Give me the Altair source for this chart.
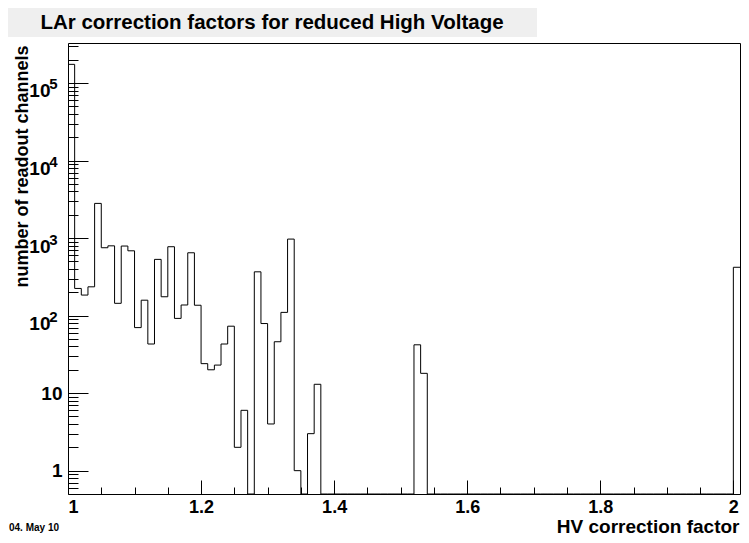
import altair as alt
import pandas as pd

# ---- data: histogram with 0.01 wide bins from 1.00 to 2.01 (non-empty bins only) ----
bin_low = [1.00, 1.01, 1.02, 1.03, 1.04, 1.05, 1.06, 1.07, 1.08, 1.09,
           1.10, 1.11, 1.12, 1.13, 1.14, 1.15, 1.16, 1.17, 1.18, 1.19,
           1.20, 1.21, 1.22, 1.23, 1.24, 1.25, 1.26, 1.28, 1.29, 1.30,
           1.31, 1.32, 1.33, 1.34, 1.36, 1.37, 1.52, 1.53, 2.00]
counts = [174000, 224, 184, 235, 2800, 750, 794, 144, 789, 685,
          70, 158, 43, 531, 175, 773, 92, 137, 646, 136,
          24, 20, 23, 43, 73, 2, 6, 367, 79, 4,
          46, 110, 970, 1, 3, 13, 42, 18, 420]

x_min, x_max, bin_w = 1.00, 2.01, 0.01
n_bins = 101

title_text = "LAr correction factors for reduced High Voltage"
x_title = "HV correction factor"
y_title = "number of readout channels"
date_text = "04. May 10"

x_major = [1.0, 1.2, 1.4, 1.6, 1.8, 2.0]
x_minor = [round(1.0 + 0.05 * i, 2) for i in range(1, 21) if i % 4 != 0]
y_major = [1, 10, 100, 1000, 10000, 100000]
y_minor = [round(k * 10.0 ** e, 3) for e in range(-1, 6) for k in range(2, 10)
           if 0.5 < k * 10.0 ** e < 3.28e5]

# ---- table of bin edges for a step outline ----
lookup = {round(b, 2): c for b, c in zip(bin_low, counts)}
edges = [round(x_min + bin_w * i, 2) for i in range(n_bins + 1)]
vals = [lookup.get(round(x_min + bin_w * min(i, n_bins - 1), 2), 0) for i in range(n_bins + 1)]
df = pd.DataFrame({"x": edges, "count": vals})

FONT = "Liberation Sans"
W, H = 672, 451
xscale = alt.Scale(domain=[x_min, x_max], nice=False, zero=False)
yscale = alt.Scale(type="log", domain=[0.5, 3.28e5], nice=False)

base = alt.Chart(df).transform_calculate(v="max(datum.count, 0.5)")
BIG = "datum.value >= 100"

line = base.mark_line(interpolate="step-after", color="black", strokeWidth=1).encode(
    x=alt.X("x:Q", scale=xscale,
            axis=alt.Axis(orient="bottom", values=x_major, format="~g", ticks=False, tickSize=0,
                          domain=False, grid=False, labelFont=FONT, labelFontSize=18,
                          labelFontWeight="bold", labelColor="black", labelPadding=4,
                          title=x_title, titleFont=FONT, titleFontSize=19, titleFontWeight="bold",
                          titleColor="black", titleX=W - 1, titleY=38, titleAlign="right",
                          titleBaseline="alphabetic")),
    y=alt.Y("v:Q", scale=yscale,
            axis=alt.Axis(orient="left", values=y_major, labelExpr="datum.value == 1 ? '1' : '10'",
                          ticks=False, tickSize=0,
                          domain=False, grid=False, labelFont=FONT, labelFontSize=19,
                          labelFontWeight="bold", labelColor="black",
                          labelPadding={"condition": {"test": BIG, "value": 18}, "value": 6},
                          labelOffset={"condition": {"test": BIG, "value": 8}, "value": 0},
                          title=y_title, titleFont=FONT, titleFontSize=18, titleFontWeight="bold",
                          titleColor="black", titleX=-41, titleY=2, titleAngle=270,
                          titleAlign="right", titleBaseline="alphabetic")),
)

# exponent digits of the 10^n labels, drawn as a second set of axis labels
exponents = base.mark_line(strokeOpacity=0).encode(
    x=alt.X("x:Q", scale=xscale, axis=alt.Axis(orient="bottom", values=[], labels=False, ticks=False,
                                                domain=False, grid=False, title="")),
    y=alt.Y("v:Q", scale=yscale,
            axis=alt.Axis(orient="left", values=y_major,
                          labelExpr="datum.value >= 100 ? '' + round(log(datum.value) / LN10) : ''",
                          ticks=False, tickSize=0, domain=False, grid=False,
                          labelFont=FONT, labelFontSize=15, labelFontWeight="bold",
                          labelColor="black", labelPadding=11, labelOffset=1, title="")),
)


def tick_layer(xvals, xlen, yvals, ylen):
    return base.mark_line(strokeOpacity=0).encode(
        x=alt.X("x:Q", scale=xscale,
                axis=alt.Axis(orient="bottom", values=xvals, offset=-xlen, tickSize=xlen,
                              labels=False, domain=False, grid=False, title="",
                              tickColor="black", tickWidth=1)),
        y=alt.Y("v:Q", scale=yscale,
                axis=alt.Axis(orient="left", values=yvals, offset=-ylen, tickSize=ylen,
                              labels=False, domain=False, grid=False, title="",
                              tickColor="black", tickWidth=1)),
    )


major_ticks = tick_layer(x_major, 14, y_major, 20)
minor_ticks = tick_layer(x_minor, 7, y_minor, 10)

one = pd.DataFrame({"t": [title_text]})
title_box = alt.Chart(one).mark_rect(color="#efefef").encode(
    x=alt.value(-60), x2=alt.value(469), y=alt.value(-35), y2=alt.value(-6))
title_txt = alt.Chart(one).mark_text(font=FONT, fontSize=20.5, fontWeight="bold", align="center",
                                     baseline="alphabetic", color="black").encode(
    text="t:N", x=alt.value(204), y=alt.value(-14.5))
dd = pd.DataFrame({"t": [date_text]})
date_txt = alt.Chart(dd).mark_text(font=FONT, fontSize=10, fontWeight="bold", align="left",
                                   baseline="alphabetic", color="black").encode(
    text="t:N", x=alt.value(-59), y=alt.value(H + 37))

chart = alt.layer(title_box, title_txt, date_txt, minor_ticks, major_ticks, exponents, line).resolve_axis(
    x="independent", y="independent"
).properties(
    width=W, height=H,
    autosize=alt.AutoSizeParams(type="none"),
    padding={"left": 60, "top": 35, "right": 1, "bottom": 41},
    background="white",
).configure_view(stroke="black", strokeWidth=1)

chart.save("out.html", embed_options={"renderer": "svg", "actions": False})
